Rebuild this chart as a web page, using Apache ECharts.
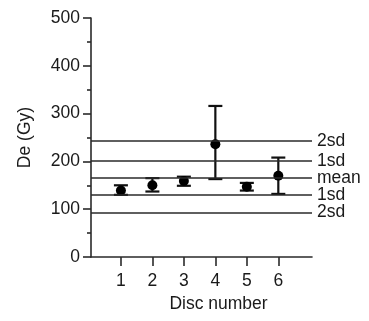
<!DOCTYPE html>
<html>
<head>
<meta charset="utf-8">
<script src="https://cdn.jsdelivr.net/npm/echarts@6/dist/echarts.min.js"></script>
<style>
  html, body { margin: 0; padding: 0; background: #fff; }
  #chart { width: 369px; height: 321px; }
</style>
</head>
<body>
<div id="chart"></div>
<script>
// disc data
const discs = [1, 2, 3, 4, 5, 6];
const deMeans = [139, 150, 159, 236, 147, 170];
const deUpper = [150, 165, 168, 316, 155, 208];
const deLower = [130, 137, 149, 163, 139, 132];

// reference lines (mean and sd bands)
const refValues = [243, 201, 165, 130, 93];
const refLabels = ["2sd", "1sd", "mean", "1sd", "2sd"];

const yTicks = [0, 100, 200, 300, 400, 500];

const ink = "#1a1a1a";
const font = "Liberation Sans, Arial, sans-serif";

let points = discs.map((d, i) => [d, deMeans[i]]);
let bars = discs.map((d, i) => [d, deLower[i], deUpper[i]]);
let lines = refValues.map((v, i) => ({ yAxis: v, name: refLabels[i] }));

let mychart = echarts.init(document.getElementById("chart"));
const option = {
  animation: false,
  grid: {
    left: 91,
    right: 57,
    top: 18,
    bottom: 64
  },
  xAxis: {
    type: "value",
    min: 0.05,
    max: 7.07,
    name: "Disc number",
    nameLocation: "middle",
    nameGap: 38,
    nameTextStyle: {
      fontSize: 17.5,
      color: ink,
      fontFamily: font,
      padding: [0, 0, 0, 34]
    },
    splitLine: { show: false },
    axisLine: {
      onZero: false,
      lineStyle: { color: "#2a2a2a", width: 1.6 }
    },
    axisTick: {
      customValues: discs,
      length: 9,
      lineStyle: { color: "#2a2a2a", width: 1.6 }
    },
    axisLabel: {
      customValues: discs,
      margin: 15,
      fontSize: 17.5,
      color: ink,
      fontFamily: font
    }
  },
  yAxis: {
    type: "value",
    min: 0,
    max: 500,
    interval: 100,
    name: "De (Gy)",
    nameLocation: "middle",
    nameGap: 57,
    nameTextStyle: {
      fontSize: 17.5,
      color: ink,
      fontFamily: font
    },
    splitLine: { show: false },
    axisLine: {
      show: true,
      lineStyle: { color: "#2a2a2a", width: 1.6 }
    },
    axisTick: {
      length: 8,
      lineStyle: { color: "#2a2a2a", width: 1.6 }
    },
    minorTick: {
      show: true,
      splitNumber: 2,
      length: 4,
      lineStyle: { color: "#2a2a2a", width: 1.6 }
    },
    axisLabel: {
      customValues: yTicks,
      margin: 11,
      fontSize: 17.5,
      color: ink,
      fontFamily: font
    }
  },
  series: [
    {
      name: "reference",
      type: "line",
      data: [],
      markLine: {
        silent: true,
        symbol: "none",
        lineStyle: { color: "#2a2a2a", width: 1.6, type: "solid" },
        label: {
          position: "end",
          distance: 5,
          formatter: p => p.name,
          fontSize: 17.5,
          color: ink,
          fontFamily: font
        },
        data: lines
      }
    },
    {
      name: "error",
      type: "custom",
      data: bars,
      renderItem: function(params, api) {
        const x = api.value(0);
        const lo = api.coord([x, api.value(1)]);
        const hi = api.coord([x, api.value(2)]);
        const cap = 7;
        const style = { stroke: "#111", lineWidth: 2.2 };
        return {
          type: "group",
          children: [
            { type: "line", shape: { x1: lo[0], y1: lo[1], x2: hi[0], y2: hi[1] }, style: style },
            { type: "line", shape: { x1: lo[0] - cap, y1: lo[1], x2: lo[0] + cap, y2: lo[1] }, style: style },
            { type: "line", shape: { x1: hi[0] - cap, y1: hi[1], x2: hi[0] + cap, y2: hi[1] }, style: style }
          ]
        };
      },
      z: 3
    },
    {
      name: "De",
      type: "scatter",
      data: points,
      symbol: "circle",
      symbolSize: 10,
      itemStyle: { color: "#000", opacity: 1 },
      z: 4
    }
  ]
};
mychart.setOption(option);
</script>
</body>
</html>
